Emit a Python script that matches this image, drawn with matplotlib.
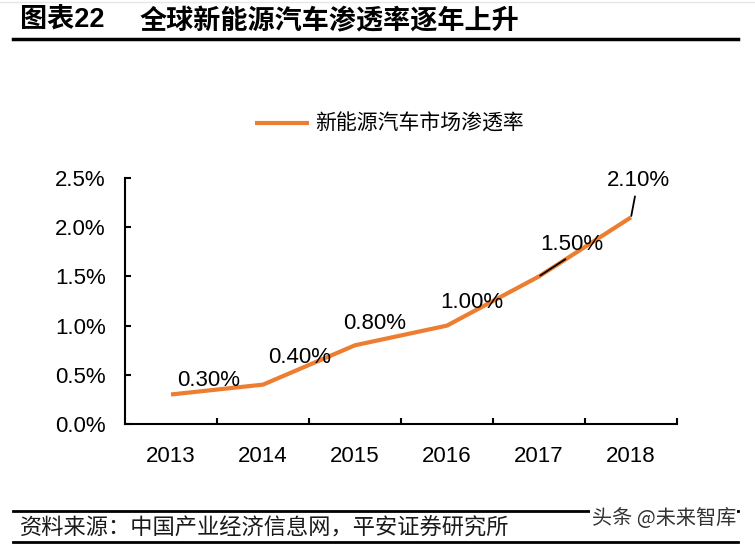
import numpy as np
import matplotlib.pyplot as plt
from matplotlib.lines import Line2D

plt.rcParams['font.family'] = ['Liberation Sans', 'Noto Sans CJK SC', 'DejaVu Sans']

# data
years = ['2013', '2014', '2015', '2016', '2017', '2018']
rate = [0.3, 0.4, 0.8, 1.0, 1.5, 2.1]
rate_labels = ['0.30%', '0.40%', '0.80%', '1.00%', '1.50%', '2.10%']
series_name = '新能源汽车市场渗透率'
yticks = [0.0, 0.5, 1.0, 1.5, 2.0, 2.5]

# label offsets in pixels (dx, dy) from each point
offsets = [(38, 14), (37, 27), (20, 22), (25, 23), (33, 32), (7, 37)]
# where the leader line meets the label box (None = no leader)
leaders = [None, None, None, None, (0.5, 0.0), (0.5, 0.5)]

W, H = 755, 546
fig = plt.figure(figsize=(W / 100, H / 100), dpi=100)
ax = fig.add_axes([125 / W, 1 - 424 / H, 552 / W, 246 / H])

orange = '#ED7D31'
x = np.arange(len(years))
ax.plot(x, rate, color=orange, linewidth=3, solid_capstyle='butt', label=series_name)

ax.set_xlim(-0.5, len(years) - 0.5)
ax.set_ylim(0, 2.5)
ax.set_yticks(yticks)
ax.set_yticklabels(['{:.1f}%'.format(v) for v in yticks])
ax.set_xticks(x)
ax.set_xticklabels(years)
ax.set_xticks(np.arange(len(years)) + 0.5, minor=True)

ax.spines['top'].set_visible(False)
ax.spines['right'].set_visible(False)
for s in ['left', 'bottom']:
    ax.spines[s].set_linewidth(1.5)

ax.tick_params(axis='y', direction='in', length=4, width=1.5, labelsize=16, pad=14)
ax.tick_params(axis='x', which='major', length=0, labelsize=16, pad=16)
ax.tick_params(axis='x', which='minor', direction='in', length=4, width=1.5)

# data labels
for i in range(len(years)):
    dx, dy = offsets[i]
    if leaders[i] is not None:
        ax.annotate(rate_labels[i], (x[i], rate[i]), xytext=(dx, dy),
                    textcoords='offset pixels', ha='center', va='center',
                    fontsize=16,
                    arrowprops=dict(arrowstyle='-', color='black', lw=1.3,
                                    shrinkA=2, shrinkB=1, relpos=leaders[i]))
    else:
        ax.annotate(rate_labels[i], (x[i], rate[i]), xytext=(dx, dy),
                    textcoords='offset pixels', ha='center', va='center',
                    fontsize=16)

ax.legend(loc='center', bbox_to_anchor=(389.5 / W, 1 - 124 / H),
          bbox_transform=fig.transFigure, frameon=False,
          handlelength=2.6, handletextpad=0.3,
          prop={'family': ['Noto Sans CJK SC'], 'size': 15})

# title block
fig.text(20 / W, 1 - 21 / H, '图表22', fontsize=19.5, fontweight='bold',
         family=['Liberation Sans', 'Noto Sans CJK SC'], va='center', ha='left')
fig.text(140 / W, 1 - 21 / H, '全球新能源汽车渗透率逐年上升', fontsize=19.5,
         fontweight='bold', family=['Noto Sans CJK SC'], va='center', ha='left')
fig.add_artist(Line2D([13 / W, 738 / W], [1 - 39 / H, 1 - 39 / H], color='black', lw=2.5))
fig.add_artist(Line2D([0, 1], [1 - 2 / H, 1 - 2 / H], color='#e6e6e6', lw=1))

# footer
fig.add_artist(Line2D([13 / W, 738 / W], [1 - 511 / H, 1 - 511 / H], color='black', lw=2))
fig.add_artist(Line2D([13 / W, 738 / W], [1 - 542 / H, 1 - 542 / H], color='black', lw=2))
fig.text(20 / W, 1 - 528 / H, '资料来源：中国产业经济信息网，平安证券研究所', fontsize=16,
         family=['Noto Sans CJK SC'], va='center', ha='left', color='#1a1a1a')
fig.text(736 / W, 1 - 518 / H, '头条 @未来智库', fontsize=14.5, family=['Noto Sans CJK SC'],
         va='center', ha='right', color='#333333',
         bbox=dict(facecolor='white', edgecolor='none', pad=1))

fig.savefig('out.png', dpi=100)
